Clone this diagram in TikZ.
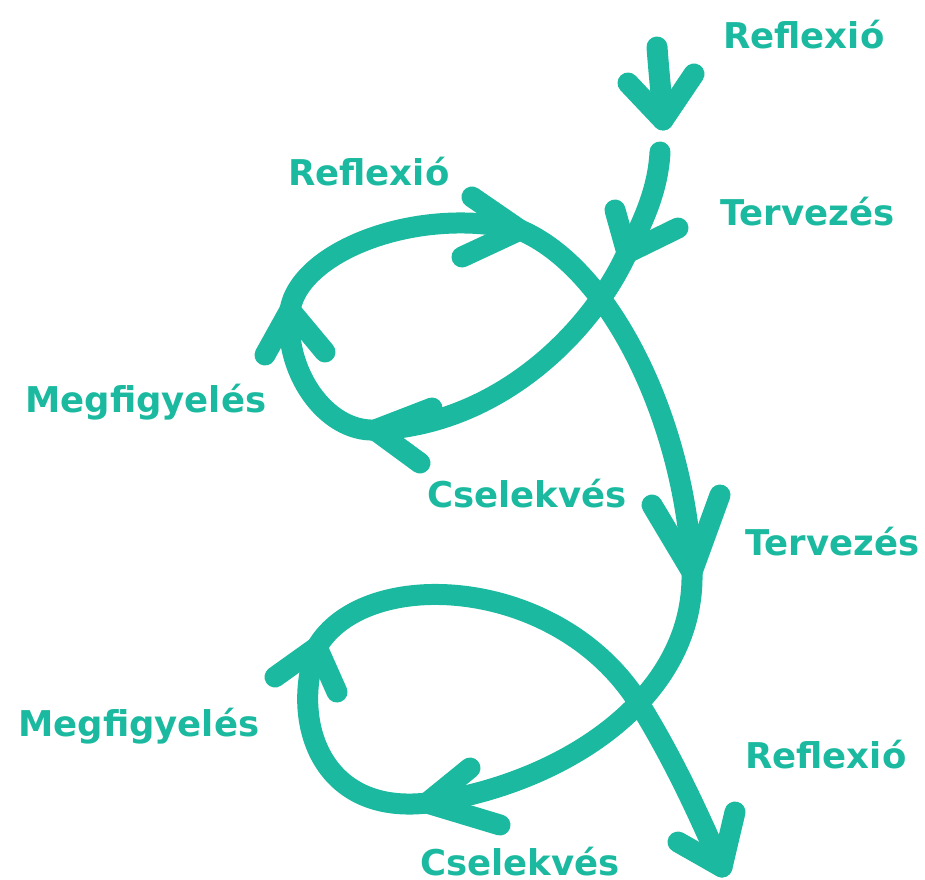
\documentclass[tikz,border=0pt]{standalone}
\usepackage{fontspec}
\setmainfont{DejaVu Sans}
\definecolor{teal1}{HTML}{1BBAA0}
\tikzset{
  stroke/.style={draw=teal1, line width=21pt, line cap=round, line join=round},
  lab/.style={anchor=base west, inner sep=0pt, text=teal1, font=\bfseries\fontsize{35.5}{40}\selectfont}
}
\begin{document}
\begin{tikzpicture}[x=1pt,y=-1pt]
\useasboundingbox (0,0) rectangle (925,879);
% top short arrow
\coordinate (t0) at (657,47);
\coordinate (t1) at (663,120);
\draw[stroke] (t0) .. controls (659,75) and (662,100) .. (t1);
\draw[stroke] (628,83) -- (t1) -- (694,74);
% main path
\coordinate (p0) at (660,152);
\coordinate (p1) at (627,253);
\coordinate (p2) at (375,430);
\coordinate (p3) at (290,310);
\coordinate (p4) at (520,230);
\coordinate (p5) at (692,572);
\coordinate (p6) at (427,803);
\coordinate (p7) at (317,647);
\coordinate (p8) at (640,705);
\coordinate (p9) at (722,867);
\draw[stroke] (p0) .. controls (658,190) and (643,222) .. (p1)
  .. controls (592,330) and (500,425) .. (p2)
  .. controls (325,432) and (283,370) .. (p3)
  .. controls (300,250) and (420,205) .. (p4)
  .. controls (610,268) and (685,420) .. (p5)
  .. controls (695,700) and (560,785) .. (p6)
  .. controls (320,815) and (290,720) .. (p7)
  .. controls (365,565) and (560,575) .. (p8)
  .. controls (680,770) and (705,830) .. (p9);
% arrowheads
\draw[stroke] (615,210) -- (p1) -- (678,228);
\draw[stroke] (472,197) -- (p4) -- (462,257);
\draw[stroke] (265,355) -- (p3) -- (325,352);
\draw[stroke] (432,408) -- (p2) -- (420,463);
\draw[stroke] (652,505) -- (p5) -- (720,495);
\draw[stroke] (275,677) -- (p7) -- (337,692);
\draw[stroke] (470,768) -- (p6) -- (500,825);
\draw[stroke] (678,842) -- (p9) -- (735,812);
% labels
\node[lab] (r1) at (723,48) {Reflexió};
\node[lab] (r2) at (288,185) {Reflexió};
\node[lab] (te1) at (720,225) {Tervezés};
\node[lab] (m1) at (25,412) {Megfigyelés};
\node[lab] (c1) at (427,507) {Cselekvés};
\node[lab] (te2) at (745,555) {Tervezés};
\node[lab] (m2) at (18,736) {Megfigyelés};
\node[lab] (r3) at (745,768) {Reflexió};
\node[lab] (c2) at (420,875) {Cselekvés};
\end{tikzpicture}
\end{document}
